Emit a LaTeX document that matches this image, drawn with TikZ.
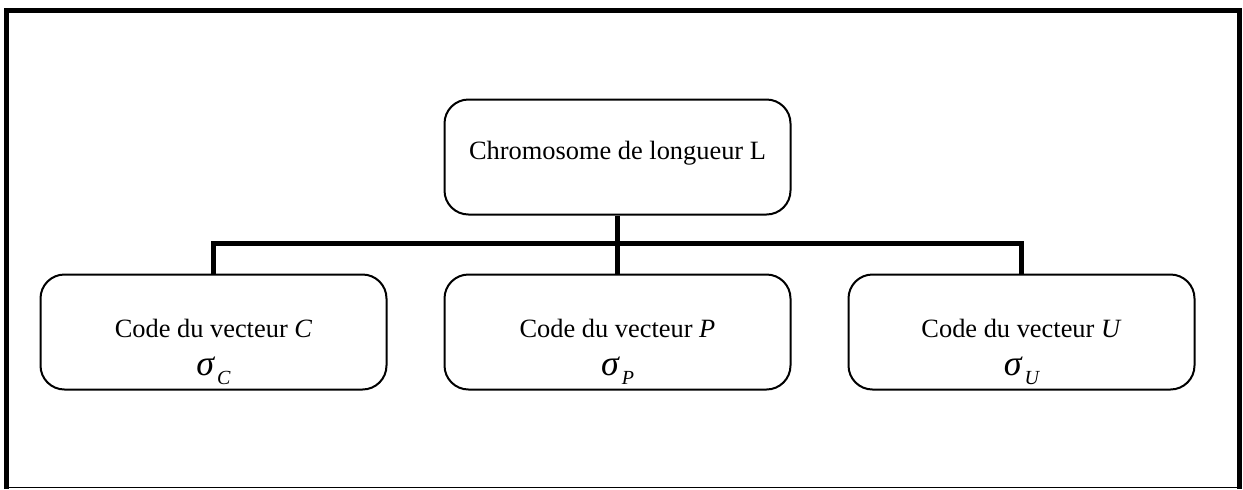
\documentclass[tikz,border=0pt]{standalone}
\usepackage{fontspec}
\setmainfont{Liberation Serif}
\usetikzlibrary{positioning}
\newcommand{\sigvec}[1]{{\fontsize{18}{18}\selectfont\itshape σ}\kern1.5pt\raisebox{-4.5pt}{\fontsize{10}{10}\selectfont\itshape #1}}
\begin{document}
\begin{tikzpicture}[
    x=0.5pt, y=-0.5pt,
    node distance=29pt and 28pt,
    box/.style={
      rectangle, rounded corners=12pt,
      draw=black, line width=1pt, inner ysep=1pt,
      minimum width=173pt, minimum height=57.5pt,
      align=center, font=\fontsize{13.2}{19}\selectfont
    },
    root/.style={box, text height=12pt, text depth=10pt},
    leaf/.style={box, text height=48pt, text depth=4.5pt},
    link/.style={line width=2.8pt, black},
    frame/.style={line width=2.5pt, black}
  ]
    \useasboundingbox (0,0) rectangle (1243,489);
    \draw[frame] (6.5,489) |- (1239,10) -- (1239,489);
    \draw[line width=0.6pt] (4,487.5) -- (1241,487.5);

    \node[root] (chrom) at (617.5,157) {Chromosome de longueur L};
    \node[leaf, below=of chrom] (codeP) {Code du vecteur \textit{P}\\\sigvec{P}};
    \node[leaf, left=of codeP] (codeC) {Code du vecteur \textit{C}\\\sigvec{C}};
    \node[leaf, right=of codeP] (codeU) {Code du vecteur \textit{U}\\\sigvec{U}};

    \coordinate (bus) at (618.5,243.5);
    \draw[link] (chrom.south) -- (codeP.north);
    \draw[link] (codeC.north) |- (bus) -| (codeU.north);
  \end{tikzpicture}
\end{document}
